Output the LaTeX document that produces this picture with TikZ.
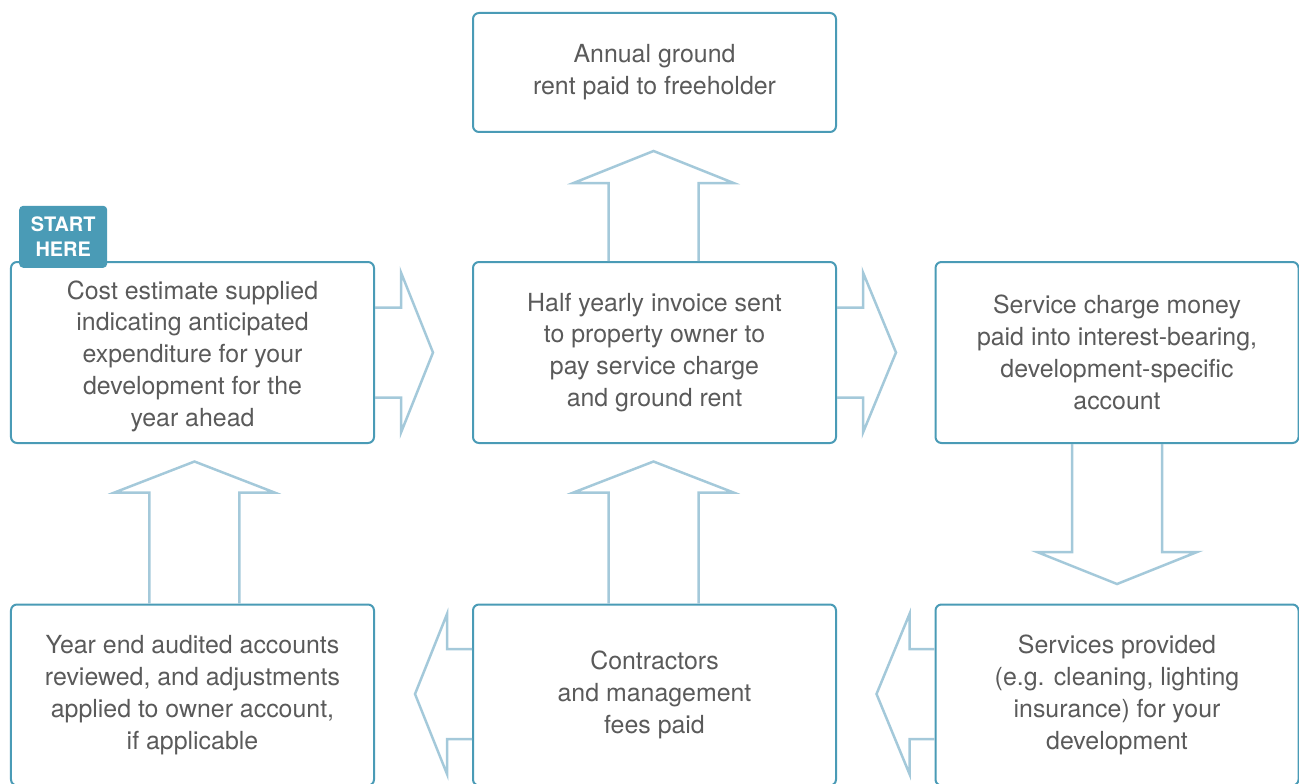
\documentclass[tikz,border=0pt]{standalone}
\usepackage{fontspec}
\setmainfont{TeX Gyre Heros}
\usetikzlibrary{shapes,arrows,calc}
\definecolor{boxline}{HTML}{4A9BB6}
\definecolor{arrowline}{HTML}{A4C9DA}
\definecolor{txt}{HTML}{5A5A5A}
\tikzstyle{block} = [draw=boxline, line width=2bp, rectangle, rounded corners=6bp, text centered, align=center, text=txt, minimum width=363bp, minimum height=181bp, font=\fontsize{25}{32}\selectfont]
\tikzstyle{bigarrow} = [draw=arrowline, line width=2.5bp, line join=miter]
\tikzstyle{badge} = [fill=boxline, rounded corners=4bp, text=white, align=center, minimum width=88bp, minimum height=62bp, inner sep=0pt, font=\fontsize{20}{25}\selectfont\bfseries]

\begin{document}
\begin{tikzpicture}[x=1bp, y=1bp, node distance=462bp]
        \useasboundingbox (0,0) rectangle (1299,-783);
        \node[block] (invoice) at (654.5,-352.5) {Half yearly invoice sent\\to property owner to\\pay service charge\\and ground rent};
        \node[block, left of=invoice] (estimate) {\rule{0pt}{26bp}Cost estimate supplied\\indicating anticipated\\expenditure for your\\development for the\\year ahead};
        \node[block, right of=invoice, node distance=462.5bp] (account) {Service charge money\\paid into interest-bearing,\\development-specific\\account};
        \node[block, above of=invoice, node distance=280bp, minimum height=119bp] (rent) {Annual ground\\rent paid to freeholder};
        \node[block, below of=invoice, node distance=342.5bp] (fees) {Contractors\\and management\\fees paid};
        \node[block, below of=estimate, node distance=342.5bp] (audit) {Year end audited accounts\\reviewed, and adjustments\\applied to owner account,\\if applicable};
        \node[block, below of=account, node distance=342.5bp] (services) {Services provided\\(e.g. cleaning, lighting\\insurance) for your\\development};
        \node[badge, anchor=south west] (start) at ($(estimate.north west)+(9,-7)$) {START\\HERE};
        % right
        \draw[bigarrow] (estimate.east) ++(0,45) -- ++(26,0) -- ++(0,35) -- ++(32,-80) -- ++(-32,-80) -- ++(0,35) -- ++(-26,0);
        \draw[bigarrow] (invoice.east) ++(0,45) -- ++(26,0) -- ++(0,35) -- ++(33,-80) -- ++(-33,-80) -- ++(0,35) -- ++(-26,0);
        % up
        \draw[bigarrow] (invoice.north) ++(-46,0) -- ++(0,78) -- ++(-35,0) -- ++(80,32) -- ++(80,-32) -- ++(-35,0) -- ++(0,-78);
        \draw[bigarrow] (fees.north) ++(-46,0) -- ++(0,111) -- ++(-35,0) -- ++(80,31) -- ++(80,-31) -- ++(-35,0) -- ++(0,-111);
        \draw[bigarrow] (audit.north) ++(-43,0) -- ++(0,111) -- ++(-35,0) -- ++(80,31) -- ++(80,-31) -- ++(-35,0) -- ++(0,-111);
        % down
        \draw[bigarrow] (account.south) ++(-45,0) -- ++(0,-108) -- ++(-35,0) -- ++(80,-32) -- ++(80,32) -- ++(-35,0) -- ++(0,108);
        % left
        \draw[bigarrow] (fees.west) ++(0,46) -- ++(-25,0) -- ++(0,35) -- ++(-32,-80) -- ++(32,-80) -- ++(0,35) -- ++(25,0);
        \draw[bigarrow] (services.west) ++(0,46) -- ++(-25,0) -- ++(0,35) -- ++(-33,-80) -- ++(33,-80) -- ++(0,35) -- ++(25,0);
    \end{tikzpicture}
\end{document}
